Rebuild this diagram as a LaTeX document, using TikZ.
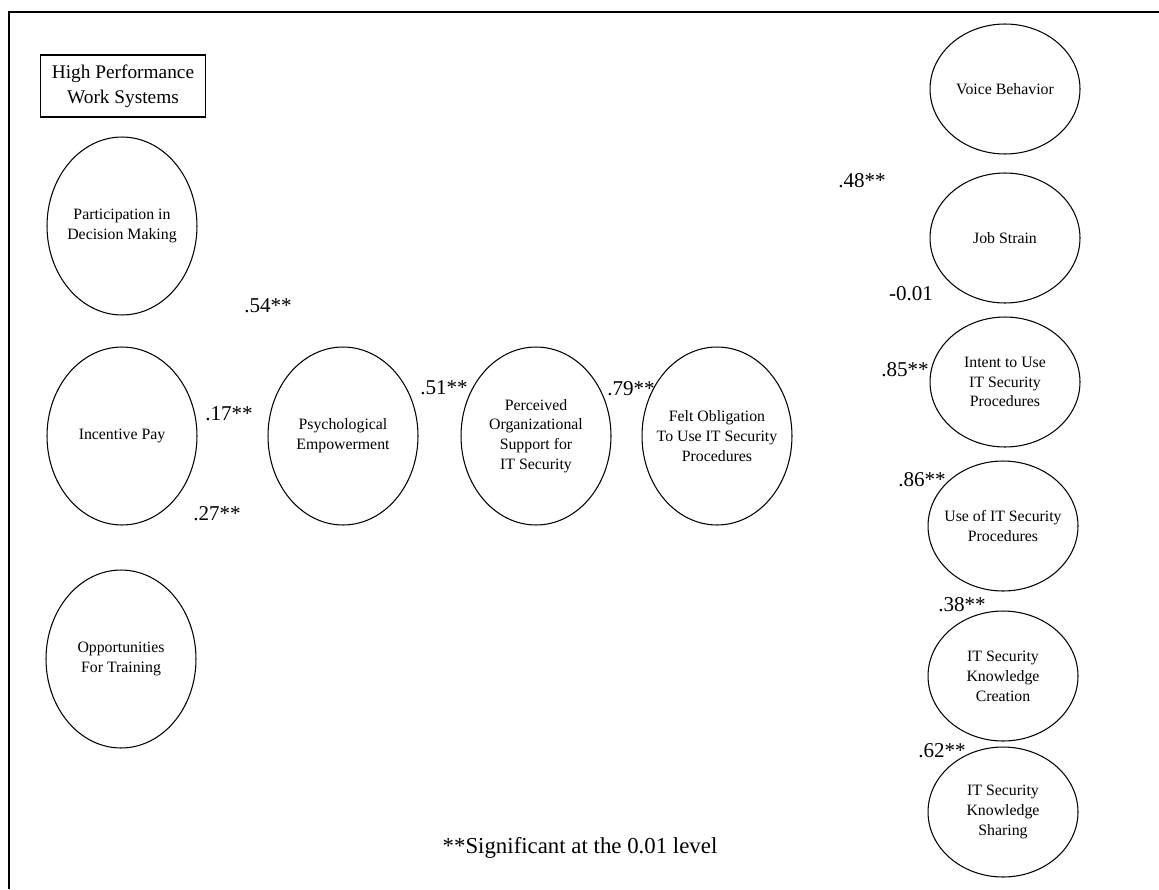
\documentclass[tikz,border=0pt]{standalone}
\usepackage{fontspec}
\setmainfont{Liberation Serif}
\usetikzlibrary{shapes,positioning}

\tikzset{
  construct/.style={ellipse, draw, line width=0.6pt, minimum width=3cm, minimum height=3.56cm,
    inner xsep=-0.45cm, inner ysep=0pt, align=center, font=\fontsize{9}{11.3}\selectfont},
  outcome/.style={construct, minimum height=2.6cm},
  coef/.style={inner sep=0pt, font=\fontsize{12}{14}\selectfont},
}

\begin{document}
\begin{tikzpicture}[x=0.02cm, y=-0.02cm]
  \useasboundingbox (0,0) rectangle (1159,889);
  %frame
  \draw[line width=1.5pt] (9,889) -- (9,12) -- (1159,12);
  %heading
  \node[draw, line width=0.8pt, minimum width=3.3cm, minimum height=1.24cm, align=center,
    font=\fontsize{11}{14}\selectfont] (hpws) at (123,86) {High Performance\\Work Systems};
  %left column
  \node[construct] (pdm) at (122,226) {Participation in\\Decision Making};
  \node[construct] (ip) at (122,436) {Incentive Pay};
  \node[construct] (oft) at (121,659) {Opportunities\\For Training};
  %middle row
  \node[construct] (pe) at (343,436) {Psychological\\Empowerment};
  \node[construct] (pos) at (536,436) {Perceived\\Organizational\\Support for\\IT Security};
  \node[construct] (fo) at (717,436) {Felt Obligation\\To Use IT Security\\Procedures};
  %right column
  \node[outcome] (vb) at (1005,89) {Voice Behavior};
  \node[outcome] (js) at (1005,238) {Job Strain};
  \node[outcome] (iu) at (1005,382) {Intent to Use\\IT Security\\Procedures};
  \node[outcome] (use) at (1003,526) {Use of IT Security\\Procedures};
  \node[outcome] (kc) at (1003,676) {IT Security\\Knowledge\\Creation};
  \node[outcome] (ks) at (1003,812) {IT Security\\Knowledge\\Sharing};
  %coefficients
  \node[coef] (c54) at (268,306) {.54**};
  \node[coef] (c17) at (229,414) {.17**};
  \node[coef] (c27) at (217,514) {.27**};
  \node[coef] (c51) at (444,388) {.51**};
  \node[coef] (c79) at (631,389) {.79**};
  \node[coef] (c48) at (862,181) {.48**};
  \node[coef] (c01) at (911,294) {-0.01};
  \node[coef] (c85) at (905,370) {.85**};
  \node[coef] (c86) at (922,480) {.86**};
  \node[coef] (c38) at (962,605) {.38**};
  \node[coef] (c62) at (942,751) {.62**};
  %note
  \node[font=\fontsize{13}{15}\selectfont] (note) at (580,848) {**Significant at the 0.01 level};
\end{tikzpicture}
\end{document}
